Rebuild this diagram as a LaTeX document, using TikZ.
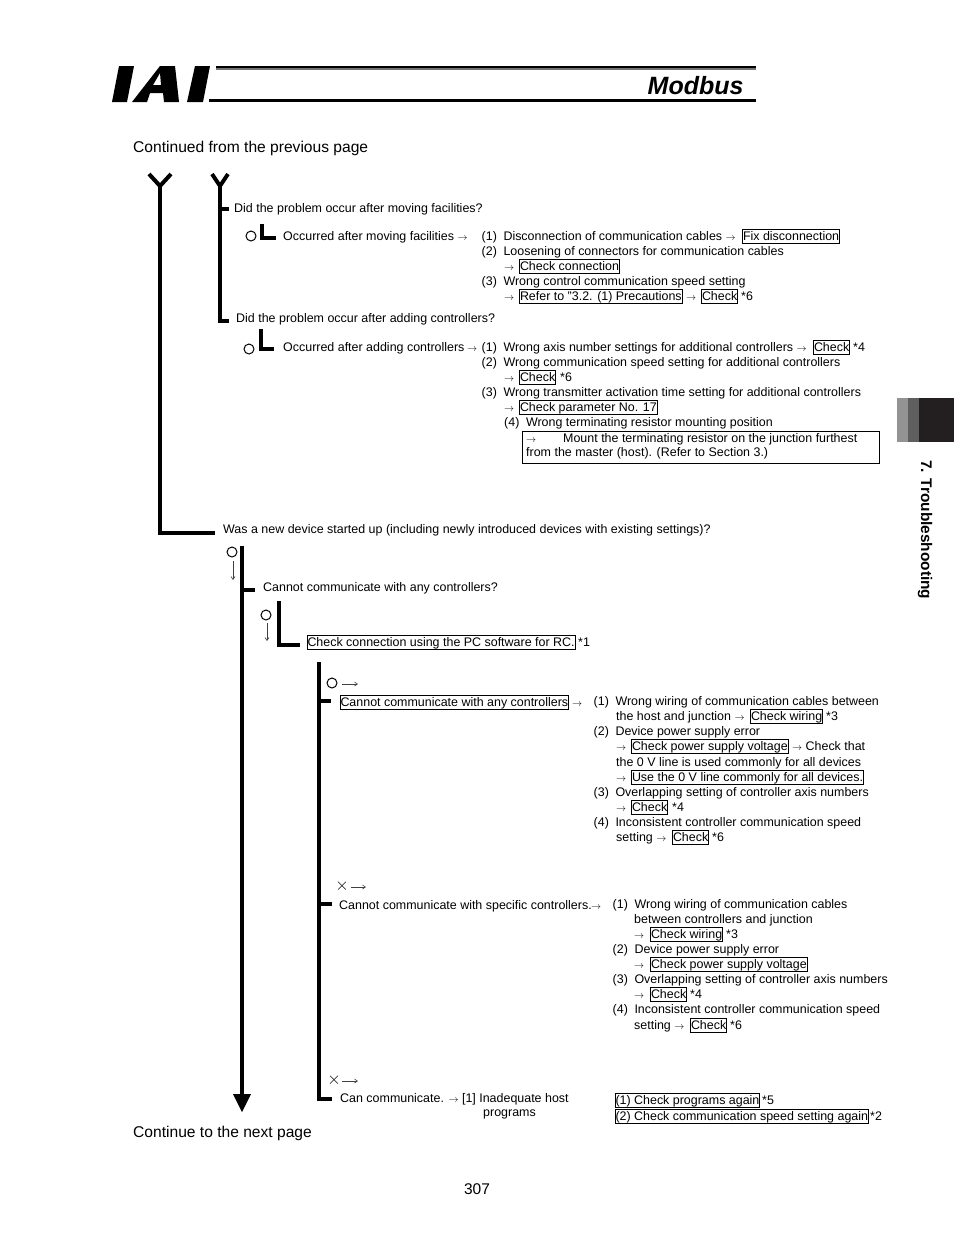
\documentclass[tikz,border=0pt]{standalone}
\usepackage{fontspec}
\setmainfont{Liberation Sans}
\newcommand{\ar}{\mbox{\normalsize$\rightarrow$}}
\definecolor{tabA}{RGB}{147,147,147}
\definecolor{tabB}{RGB}{95,95,95}
\definecolor{tabC}{RGB}{35,31,32}
\usetikzlibrary{arrows.meta}
\tikzset{
  small/.style={font=\fontsize{12.45}{14}\selectfont,inner sep=0pt,anchor=base west},
  large/.style={font=\fontsize{15.6}{20}\selectfont,inner sep=0pt,anchor=base west},
  boxed/.style={small,draw=black,line width=1pt,inner xsep=.5pt,inner ysep=0pt,text height=10.5pt,text depth=3.3pt},
  thick line/.style={line width=4pt,line cap=butt,line join=miter},
  ring/.style={draw=black,line width=1pt,circle,minimum size=10pt,inner sep=0pt},
  thin arrow/.style={draw=black!75,line width=.6pt,-{Straight Barb[length=3pt,width=4pt,line width=.6pt]}},
  cross/.style={font=\fontsize{18}{18}\selectfont,inner sep=0pt}
}
\newcommand{\T}[4]{\node[small] (#1) at (#2,#3) {#4};}
\newcommand{\B}[4]{\node[boxed] (#1) at (#2,#3) {#4};}
\begin{document}
\begin{tikzpicture}[x=1pt,y=-1pt]
\useasboundingbox (0,0) rectangle (954,1235);
% header
\fill (112,102) -- (127,102) -- (134,66) -- (119,66) -- cycle;
\fill[even odd rule] (132,102) -- (147,102) -- (150,93) -- (163,93) -- (164,102) -- (179,102) -- (175,66) -- (160,66) -- cycle
  (153,85) -- (161,85) -- (160,73) -- cycle;
\fill (187,102) -- (203,102) -- (210,66) -- (195,66) -- cycle;
\fill[black] (216,65.5) rectangle (756,67.5);
\fill[black!55] (216,67.5) rectangle (756,69.5);
\fill (209,99) rectangle (756,102);
\node[inner sep=0pt,anchor=base west,font=\fontsize{25}{28}\selectfont\bfseries\itshape] (title) at (647.5,94.5) {Modbus};
% side tab
\fill[tabA] (897,398) rectangle (908,442);
\fill[tabB] (908,398) rectangle (919,442);
\fill[tabC] (919,398) rectangle (954,442);
\node[font=\fontsize{15.4}{18}\selectfont\bfseries,inner sep=0pt,rotate=-90,anchor=base west] (tab) at (921,460) {7. Troubleshooting};
% page texts
\node[large] (cont) at (133,152.5) {Continued from the previous page};
\node[large] (next) at (133,1137) {Continue to the next page};
\node[font=\fontsize{15.5}{16}\selectfont,inner sep=0pt,anchor=base] (pg) at (477,1194.5) {307};
% connector coordinates
\coordinate (a1) at (149,174); \coordinate (a2) at (171,174); \coordinate (a3) at (160,186);
\coordinate (a4) at (160,533); \coordinate (a5) at (215,533);
\coordinate (b1) at (212,174); \coordinate (b2) at (228,174); \coordinate (b3) at (220,186);
\coordinate (b4) at (220,321); \coordinate (b5) at (229,321); \coordinate (b6) at (220,209); \coordinate (b7) at (229,209);
\draw[thick line] (a1) -- (a3) -- (a2);
\draw[thick line] (a3) -- (a4) -- (a5);
\draw[thick line] (b1) -- (b3) -- (b2);
\draw[thick line] (b3) -- (b4) -- (b5);
\draw[thick line] (b6) -- (b7);
\coordinate (c1) at (262,224); \coordinate (c2) at (262,238); \coordinate (c3) at (276,238);
\coordinate (d1) at (261,329); \coordinate (d2) at (261,349); \coordinate (d3) at (274,349);
\draw[thick line] (c1) -- (c2) -- (c3);
\draw[thick line] (d1) -- (d2) -- (d3);
\node[ring] (r1) at (251,236) {};
\node[ring] (r2) at (249,349) {};
% main stem
\coordinate (m1) at (242,546); \coordinate (m2) at (242,1096); \coordinate (m3) at (242,590); \coordinate (m4) at (255,590);
\draw[thick line] (m1) -- (m2);
\draw[thick line] (m3) -- (m4);
\fill (233,1094) -- (251,1094) -- (242,1112) -- cycle;
\coordinate (n1) at (279,601); \coordinate (n2) at (279,645); \coordinate (n3) at (300,645);
\draw[thick line] (n1) -- (n2) -- (n3);
\coordinate (p1) at (319,662); \coordinate (p2) at (319,1099); \coordinate (p3) at (332,1099);
\coordinate (p4) at (319,701); \coordinate (p5) at (331,701); \coordinate (p6) at (319,904); \coordinate (p7) at (332,904);
\draw[thick line] (p1) -- (p2) -- (p3);
\draw[thick line] (p4) -- (p5);
\draw[thick line] (p6) -- (p7);
% yes/no marks
\node[ring] (r3) at (232,552) {};
\coordinate (q1) at (233,561); \coordinate (q2) at (233,580);
\draw[thin arrow] (q1) -- (q2);
\node[ring] (r4) at (266,615) {};
\coordinate (q3) at (267,623); \coordinate (q4) at (267,641);
\draw[thin arrow] (q3) -- (q4);
\node[ring] (r5) at (332,683) {};
\coordinate (q5) at (342,684); \coordinate (q6) at (358,684);
\draw[thin arrow] (q5) -- (q6);
\node[cross] (x1) at (342,886) {$\times$};
\coordinate (q7) at (351,887); \coordinate (q8) at (366,887);
\draw[thin arrow] (q7) -- (q8);
\node[cross] (x2) at (334,1080) {$\times$};
\coordinate (q9) at (342,1081); \coordinate (q10) at (358,1081);
\draw[thin arrow] (q9) -- (q10);
% first block
\T{t1}{234}{212}{Did the problem occur after moving facilities?}
\T{t2}{283}{240}{Occurred after moving facilities \ar}
\T{t3}{481.5}{240}{(1)\hspace{6.6pt}Disconnection of communication cables \ar}
\B{t4}{742}{240}{Fix disconnection}
\T{t5}{481.5}{255}{(2)\hspace{6.6pt}Loosening of connectors for communication cables}
\T{t6}{504}{270}{\ar}
\B{t7}{519}{270}{Check connection}
\T{t8}{481.5}{285}{(3)\hspace{6.6pt}Wrong control communication speed setting}
\T{t9}{504}{300}{\ar}
\B{t10}{519}{300}{Refer to "3.2. (1) Precautions\hspace{2pt}}
\T{t11}{686}{300}{\ar}
\B{t12}{701}{300}{Check}
\T{t13}{741}{300}{*6}
\T{t14}{236}{322}{Did the problem occur after adding controllers?}
\T{t15}{283}{351}{Occurred after adding controllers}
\T{t16}{467}{351}{\ar}
\T{t17}{481.5}{351}{(1)\hspace{6.6pt}Wrong axis number settings for additional controllers \ar}
\B{t18}{813}{351}{Check}
\T{t19}{853}{351}{*4}
\T{t20}{481.5}{366}{(2)\hspace{6.6pt}Wrong communication speed setting for additional controllers}
\T{t21}{504}{381}{\ar}
\B{t22}{519}{381}{Check}
\T{t23}{560}{381}{*6}
\T{t24}{481.5}{396}{(3)\hspace{6.6pt}Wrong transmitter activation time setting for additional controllers}
\T{t25}{504}{411}{\ar}
\B{t26}{519}{411}{Check parameter No. 17}
\T{t27}{504}{426}{(4)\hspace{6.6pt}Wrong terminating resistor mounting position}
\coordinate (bx1) at (522.5,431.5); \coordinate (bx2) at (879.5,463.5);
\draw[line width=1pt] (bx1) rectangle (bx2);
\T{t28}{526}{442}{\ar}
\T{t29}{563}{442}{Mount the terminating resistor on the junction furthest}
\T{t30}{526}{456}{from the master (host). (Refer to Section 3.)}
% second block
\T{t31}{223}{533}{Was a new device started up (including newly introduced devices with existing settings)?}
\T{t32}{263}{591}{Cannot communicate with any controllers?}
\B{t33}{306.5}{646}{Check connection using the PC software for RC.}
\T{t34}{578}{646}{*1}
\B{t35}{339.5}{706}{Cannot communicate with any controllers}
\T{t36}{572}{706}{\ar}
\T{t37}{593.5}{705}{(1)\hspace{6.6pt}Wrong wiring of communication cables between}
\T{t38}{616}{720}{the host and junction \ar}
\B{t39}{750}{720}{Check wiring}
\T{t40}{826}{720}{*3}
\T{t41}{593.5}{735}{(2)\hspace{6.6pt}Device power supply error}
\T{t42}{616}{750}{\ar}
\B{t43}{631}{750}{Check power supply voltage}
\T{t44}{792}{750}{\ar\ Check that}
\T{t45}{616}{766}{the 0 V line is used commonly for all devices}
\T{t46}{616}{781}{\ar}
\B{t47}{631}{781}{Use the 0 V line commonly for all devices.}
\T{t48}{593.5}{796}{(3)\hspace{6.6pt}Overlapping setting of controller axis numbers}
\T{t49}{616}{811}{\ar}
\B{t50}{631}{811}{Check}
\T{t51}{672}{811}{*4}
\T{t52}{593.5}{826}{(4)\hspace{6.6pt}Inconsistent controller communication speed}
\T{t53}{616}{841}{setting \ar}
\B{t54}{672}{841}{Check}
\T{t55}{712}{841}{*6}
% third
\T{t56}{339}{909}{Cannot communicate with specific controllers.}
\T{t57}{591}{909}{\ar}
\T{t58}{612.5}{908}{(1)\hspace{6.6pt}Wrong wiring of communication cables}
\T{t59}{634}{923}{between controllers and junction}
\T{t60}{634}{938}{\ar}
\B{t61}{650}{938}{Check wiring}
\T{t62}{726}{938}{*3}
\T{t63}{612.5}{953}{(2)\hspace{6.6pt}Device power supply error}
\T{t64}{634}{968}{\ar}
\B{t65}{650}{968}{Check power supply voltage}
\T{t66}{612.5}{983}{(3)\hspace{6.6pt}Overlapping setting of controller axis numbers}
\T{t67}{634}{998}{\ar}
\B{t68}{650}{998}{Check}
\T{t69}{690}{998}{*4}
\T{t70}{612.5}{1013}{(4)\hspace{6.6pt}Inconsistent controller communication speed}
\T{t71}{634}{1029}{setting \ar}
\B{t72}{690}{1029}{Check}
\T{t73}{730}{1029}{*6}
% last
\T{t74}{340}{1102}{Can communicate. \ar\ [1] Inadequate host}
\T{t75}{483}{1116}{programs}
\B{t76}{614.5}{1104}{(1) Check programs again}
\T{t77}{762}{1104}{*5}
\B{t78}{614.5}{1120}{(2) Check communication speed setting again}
\T{t79}{870}{1120}{*2}
\end{tikzpicture}
\end{document}
